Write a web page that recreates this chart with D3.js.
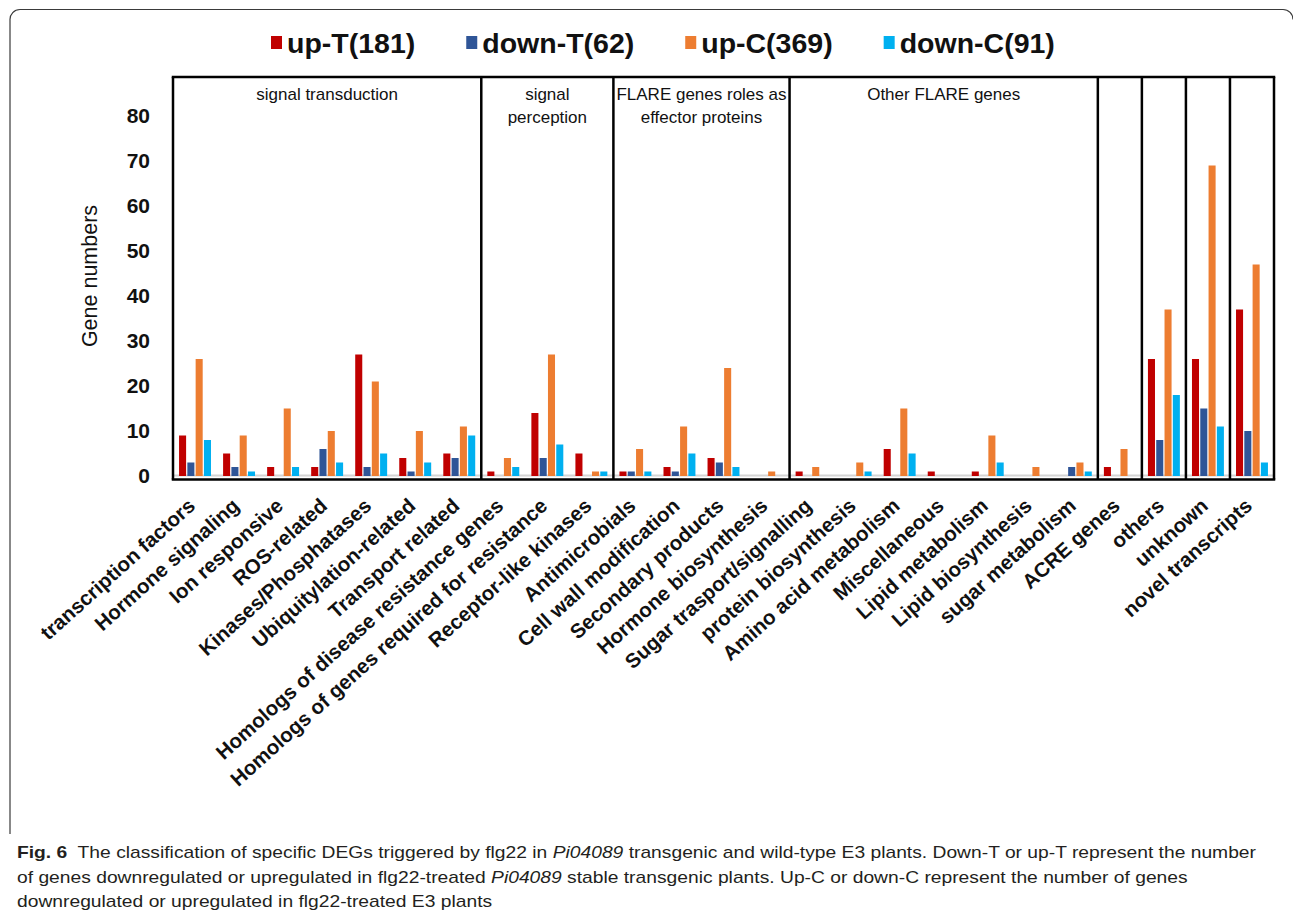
<!DOCTYPE html>
<html>
<head>
<meta charset="utf-8">
<script src="https://cdn.jsdelivr.net/npm/d3@7"></script>
<style>
  html, body { margin: 0; padding: 0; background: #fff; }
  svg { display: block; }
</style>
</head>
<body>
<svg id="chart" width="1293" height="910"></svg>
<script>
// Functional categories of the DEGs (x axis)
const categories = [
  "transcription factors", "Hormone signaling", "Ion responsive", "ROS-related",
  "Kinases/Phosphatases", "Ubiquitylation-related", "Transport related",
  "Homologs of disease resistance genes", "Homologs of genes required for resistance",
  "Receptor-like kinases",
  "Antimicrobials", "Cell wall modification", "Secondary products", "Hormone biosynthesis",
  "Sugar trasport/signalling", "protein biosynthesis", "Amino acid metabolism",
  "Miscellaneous", "Lipid metabolism", "Lipid biosynthesis", "sugar metabolism",
  "ACRE genes", "others", "unknown", "novel transcripts"
];

// Section boxes drawn over the categories
const sectionTitles = [
  ["signal transduction"],
  ["signal", "perception"],
  ["FLARE genes roles as", "effector proteins"],
  ["Other FLARE genes"],
  [], [], [], []
];
const sectionSizes = [7, 3, 4, 7, 1, 1, 1, 1];

// Series
const seriesKeys = ["upT", "downT", "upC", "downC"];
const seriesNames = ["up-T(181)", "down-T(62)", "up-C(369)", "down-C(91)"];
const seriesColors = ["#C00000", "#2F5597", "#ED7D31", "#00B0F0"];

const upT   = [9, 5, 2, 2, 27, 4, 5,   1, 14, 5,   1, 2, 4, 0,   1, 0, 6, 1, 1, 0, 0,   2, 26, 26, 37];
const downT = [3, 2, 0, 6, 2, 1, 4,    0, 4, 0,    1, 1, 3, 0,   0, 0, 0, 0, 0, 0, 2,   0, 8, 15, 10];
const upC   = [26, 9, 15, 10, 21, 10, 11,  4, 27, 1,  6, 11, 24, 1,  2, 3, 15, 0, 9, 2, 3,  6, 37, 69, 47];
const downC = [8, 1, 2, 3, 5, 3, 9,    2, 7, 1,    1, 5, 2, 0,   0, 1, 5, 0, 3, 0, 1,   0, 18, 11, 3];

// Y axis ticks
const yTicks = [0, 10, 20, 30, 40, 50, 60, 70, 80];
const yTitle = "Gene numbers";

// Figure caption
const captionLines = [
  [{t: "Fig. 6", w: "bold"}, {t: "  The classification of specific DEGs triggered by flg22 in "}, {t: "Pi04089", s: "italic"},
   {t: " transgenic and wild-type E3 plants. Down-T or up-T represent the number"}],
  [{t: "of genes downregulated or upregulated in flg22-treated "}, {t: "Pi04089", s: "italic"},
   {t: " stable transgenic plants. Up-C or down-C represent the number of genes"}],
  [{t: "downregulated or upregulated in flg22-treated E3 plants"}]
];

const seriesValues = {upT, downT, upC, downC};
const rows = categories.map((c, i) => ({
  category: c,
  values: seriesKeys.map(k => ({key: k, value: seriesValues[k][i]}))
}));

const svg = d3.select("#chart");
const FONT = "'Liberation Sans', Arial, Helvetica, sans-serif";

// Plot geometry
const plotTop = 77, plotBottom = 479.5;

const x0 = d3.scaleBand()
  .domain(categories)
  .range([173, 1274])
  .paddingInner(0.275)
  .paddingOuter(0.1375);

const x1 = d3.scaleBand()
  .domain(seriesKeys)
  .range([0, x0.bandwidth()])
  .paddingInner(0.15);

const y = d3.scaleLinear().domain([0, 80]).range([476, 116]);

const color = d3.scaleOrdinal().domain(seriesKeys).range(seriesColors);

// Outer figure frame (rounded top corners)
svg.append("path")
  .attr("d", "M10,834 V20 A10,10 0 0 1 20,9.5 H1283 A10,10 0 0 1 1293,19.5")
  .attr("fill", "none")
  .attr("stroke", "#3a3a3a")
  .attr("stroke-width", 1.2);

// Light baseline under the bars
svg.append("line")
  .attr("x1", x0.range()[0]).attr("x2", x0.range()[1])
  .attr("y1", y(0) - 0.5).attr("y2", y(0) - 0.5)
  .attr("stroke", "#d4d4d4")
  .attr("stroke-width", 2);

// Bars
const gBars = svg.append("g");
gBars.selectAll("g")
  .data(rows)
  .join("g")
  .attr("transform", d => `translate(${x0(d.category)},0)`)
  .selectAll("rect")
  .data(d => d.values.filter(v => v.value > 0))
  .join("rect")
  .attr("x", d => x1(d.key))
  .attr("y", d => y(d.value))
  .attr("width", x1.bandwidth())
  .attr("height", d => y(0) - y(d.value))
  .attr("fill", d => color(d.key));

// Section boxes
const halfGap = x0.step() * x0.paddingInner() / 2;
const edges = [];
let idx = 0;
sectionSizes.forEach(n => {
  const first = categories[idx], last = categories[idx + n - 1];
  edges.push({
    x0: x0(first) - halfGap,
    x1: x0(last) + x0.bandwidth() + halfGap,
    title: sectionTitles[edges.length]
  });
  idx += n;
});

const gFrame = svg.append("g");
gFrame.append("line")
  .attr("x1", edges[0].x0 - 1.25).attr("x2", edges[edges.length - 1].x1 + 1.25)
  .attr("y1", plotTop).attr("y2", plotTop)
  .attr("stroke", "#000").attr("stroke-width", 2.5);
gFrame.append("line")
  .attr("x1", edges[0].x0 - 1.25).attr("x2", edges[edges.length - 1].x1 + 1.25)
  .attr("y1", plotBottom).attr("y2", plotBottom)
  .attr("stroke", "#000").attr("stroke-width", 2.5);
const vlines = [edges[0].x0].concat(edges.map(e => e.x1));
gFrame.selectAll("line.v")
  .data(vlines)
  .join("line")
  .attr("class", "v")
  .attr("x1", d => d).attr("x2", d => d)
  .attr("y1", plotTop).attr("y2", plotBottom)
  .attr("stroke", "#000").attr("stroke-width", 2.5);

// Section titles (kept inside their box)
edges.forEach(e => {
  const cx = (e.x0 + e.x1) / 2;
  const maxW = e.x1 - e.x0 - 6;
  e.title.forEach((line, j) => {
    const t = svg.append("text")
      .attr("x", cx)
      .attr("y", 100 + j * 23)
      .attr("text-anchor", "middle")
      .attr("font-family", FONT)
      .attr("font-size", 17)
      .attr("fill", "#111")
      .text(line);
    if (t.node().getComputedTextLength() > maxW) {
      t.attr("textLength", maxW).attr("lengthAdjust", "spacingAndGlyphs");
    }
  });
});

// Y axis labels
const yAxis = svg.append("g")
  .attr("transform", "translate(150,0)")
  .call(d3.axisLeft(y).tickValues(yTicks).tickSize(0).tickPadding(0));
yAxis.select(".domain").remove();
yAxis.selectAll("text")
  .attr("font-family", FONT)
  .attr("font-size", 21)
  .attr("font-weight", "bold")
  .attr("fill", "#111");

svg.append("text")
  .attr("transform", "translate(97,276) rotate(-90)")
  .attr("text-anchor", "middle")
  .attr("font-family", FONT)
  .attr("font-size", 21.5)
  .attr("fill", "#111")
  .text(yTitle);

// X axis category labels
const xAxis = svg.append("g")
  .attr("transform", "translate(0,509)")
  .call(d3.axisBottom(x0).tickSize(0).tickPadding(0));
xAxis.select(".domain").remove();
xAxis.selectAll("text")
  .attr("x", 2)
  .attr("y", 0)
  .attr("dy", 0)
  .attr("transform", "rotate(-42)")
  .attr("text-anchor", "end")
  .attr("font-family", FONT)
  .attr("font-size", 20.5)
  .attr("font-weight", "bold")
  .attr("fill", "#111");

// Legend
const legend = svg.append("g");
let lx = 271;
seriesNames.forEach((name, i) => {
  legend.append("rect")
    .attr("x", lx).attr("y", 36)
    .attr("width", 11).attr("height", 13)
    .attr("fill", seriesColors[i]);
  const t = legend.append("text")
    .attr("x", lx + 16).attr("y", 53)
    .attr("font-family", FONT)
    .attr("font-size", 28.5)
    .attr("font-weight", "bold")
    .attr("fill", "#111")
    .text(name);
  lx += 16 + t.node().getComputedTextLength() + 51;
});

// Caption: one common horizontal squeeze so the first line spans the text column
const capFirstWidth = 1239;
const capTexts = captionLines.map((parts, i) => {
  const t = svg.append("text")
    .attr("x", 17)
    .attr("y", 858 + i * 24.5)
    .attr("font-family", "'Liberation Sans Narrow', 'Arial Narrow', 'Liberation Sans', sans-serif")
    .attr("font-size", 17)
    .attr("fill", "#231f20")
    .style("white-space", "pre");
  parts.forEach(p => {
    t.append("tspan")
      .attr("font-weight", p.w || null)
      .attr("font-style", p.s || null)
      .text(p.t);
  });
  return t;
});
const natural = capTexts.map(t => t.node().getComputedTextLength());
const squeeze = capFirstWidth / natural[0];
capTexts.forEach((t, i) => {
  t.attr("textLength", natural[i] * squeeze).attr("lengthAdjust", "spacingAndGlyphs");
});
</script>
</body>
</html>
